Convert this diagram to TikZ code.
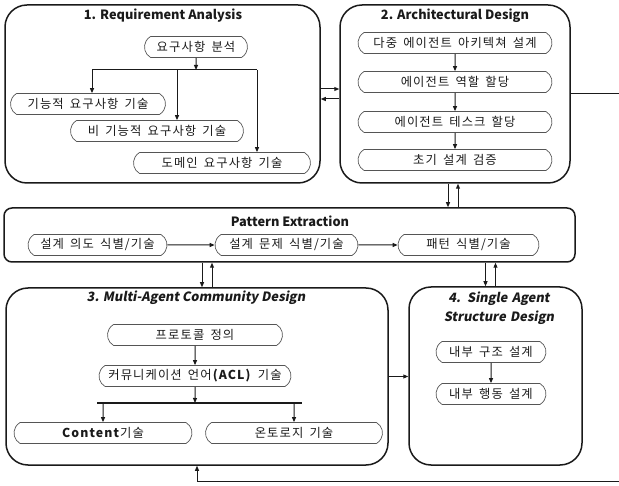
\documentclass[tikz,border=0pt]{standalone}
\usepackage{fontspec}
\setmainfont{Noto Sans CJK KR}[LetterSpace=9, WordSpace=1.6]
\newfontfamily\hdrfont{Noto Sans CJK KR}
\newfontfamily\hdrslfont{Noto Sans CJK KR}[FakeSlant=0.18]
\usetikzlibrary{positioning,arrows.meta,shapes.misc}
\definecolor{ink}{HTML}{1A1A1A}
\definecolor{rim}{HTML}{555555}
\tikzset{
  phase/.style  = {rectangle, rounded corners=22pt, draw=ink, line width=1.5pt, inner sep=0pt},
  band/.style   = {rectangle, rounded corners=8pt, draw=ink, line width=1.5pt, inner sep=0pt},
  task/.style   = {rounded rectangle, rounded rectangle arc length=120, draw=rim, line width=0.7pt,
                   minimum height=21pt, inner sep=1pt, font=\fontsize{12.3}{14}\selectfont, text=ink},
  hdr/.style    = {font=\hdrfont\fontsize{12.8}{15}\selectfont\bfseries, text=ink},
  hdrsl/.style  = {font=\hdrslfont\fontsize{12.8}{19}\selectfont\bfseries, text=ink, align=center},
  flow/.style   = {-{Triangle[length=5pt,width=4pt]}, line width=1pt, draw=ink},
  link/.style   = {line width=1pt, draw=ink},
  bar/.style    = {line width=2.4pt, draw=ink},
}

\begin{document}
\begin{tikzpicture}[x=1pt, y=-1pt]
  \useasboundingbox (0,0) rectangle (619,486);

  \node[phase, minimum width=315pt, minimum height=178pt] (req)    at (162.5,94)  {};
  \node[phase, minimum width=230pt, minimum height=178pt] (arch)   at (455,94)    {};
  \node[band,  minimum width=571pt, minimum height=54pt]  (pat)    at (289.5,235) {};
  \node[phase, minimum width=382pt, minimum height=177pt] (comm)   at (197,376.5) {};
  \node[phase, minimum width=173pt, minimum height=178pt] (single) at (495.5,376) {};

  \node[hdr] (reqT)  at (163,16)  {1. Requirement Analysis};
  \node[hdr] (archT) at (455,16)  {2. Architectural Design};
  \node[hdr] (patT)  at (290,221) {Pattern Extraction};
  \node[hdrsl] (commT) at (196,298) {3. Multi-Agent Community Design};
  \node[hdrsl, text width=170pt] (singleT) at (499,308) {4. Single Agent\\Structure Design};

  % requirement analysis
  \node[task, minimum width=105pt] (ra0) at (196,47)  {요구사항 분석};
  \node[task, minimum width=157pt] (ra1) at (88,104)  {기능적 요구사항 기술};
  \node[task, minimum width=175pt] (ra2) at (157,131) {비 기능적 요구사항 기술};
  \node[task, minimum width=179pt] (ra3) at (222,163) {도메인 요구사항 기술};
  \coordinate (busL) at (92,70);
  \coordinate (busM) at (177,70);
  \coordinate (busR) at (257,70);
  \draw[flow] (ra0) -- (ra0 |- busL);
  \draw[link] (busL) -- (busR);
  \draw[flow] (busL) -- (busL |- ra1.north);
  \draw[flow] (busM) -- (busM |- ra2.north);
  \draw[flow] (busR) -- (busR |- ra3.north);

  % architectural design
  \node[task, minimum width=196pt] (ad1) at (455,43)  {다중 에이전트 아키텍쳐 설계};
  \node[task, minimum width=196pt] (ad2) at (455,82)  {에이전트 역할 할당};
  \node[task, minimum width=196pt] (ad3) at (455,122) {에이전트 테스크 할당};
  \node[task, minimum width=196pt] (ad4) at (455,160) {초기 설계 검증};
  \draw[flow] (ad1) -- (ad2);
  \draw[flow] (ad2) -- (ad3);
  \draw[flow] (ad3) -- (ad4);

  % pattern extraction
  \node[task, minimum width=141pt] (pe1) at (97.5,245)  {설계 의도 식별/기술};
  \node[task, minimum width=145pt] (pe2) at (286.5,245) {설계 문제 식별/기술};
  \node[task, minimum width=143pt] (pe3) at (468.5,245) {패턴 식별/기술};
  \draw[flow] (pe1) -- (pe2);
  \draw[flow] (pe2) -- (pe3);

  % community design
  \node[task, minimum width=177pt] (mc1) at (195,335) {프로토콜 정의};
  \node[task, minimum width=194pt] (mc2) at (195,376) {커뮤니케이션 언어\textbf{(ACL)} 기술};
  \node[task, minimum width=180pt] (mc3) at (103,433) {\textbf{Content}기술};
  \node[task, minimum width=179pt] (mc4) at (294,433) {온토로지 기술};
  \coordinate (barL) at (97,403);
  \coordinate (barR) at (302,403);
  \draw[flow] (mc1) -- (mc2);
  \draw[flow] (mc2) -- (mc2 |- barL);
  \draw[bar] (barL) -- (barR);
  \draw[flow] (mc3 |- barL) -- (mc3);
  \draw[flow] (mc4 |- barL) -- (mc4);

  % single agent
  \node[task, minimum width=112pt] (sa1) at (491,352) {내부 구조 설계};
  \node[task, minimum width=112pt] (sa2) at (491,394) {내부 행동 설계};
  \draw[flow] (sa1) -- (sa2);

  % between phases
  \draw[flow] ([yshift=5pt]req.east) -- ([yshift=5pt]req.east -| arch.west);
  \draw[flow] ([yshift=-5pt]arch.west) -- ([yshift=-5pt]arch.west -| req.east);
  \draw[flow] ([xshift=-7pt]arch.south) -- ([xshift=-7pt]arch.south |- pat.north);
  \draw[flow] ([xshift=3pt]arch.south |- pat.north) -- ([xshift=3pt]arch.south);
  \draw[flow] ([xshift=5pt]comm.north |- pat.south) -- ([xshift=5pt]comm.north);
  \draw[flow] ([xshift=15pt]comm.north) -- ([xshift=15pt]comm.north |- pat.south);
  \draw[flow] ([xshift=-10pt]single.north |- pat.south) -- ([xshift=-10pt]single.north);
  \draw[flow] (single.north) -- (single.north |- pat.south);
  \draw[flow] (comm.east) -- (comm.east -| single.west);
  \coordinate (fb) at (623,481);
  \draw[flow] (arch.east) -| (fb) -| (comm.south);
\end{tikzpicture}
\end{document}
